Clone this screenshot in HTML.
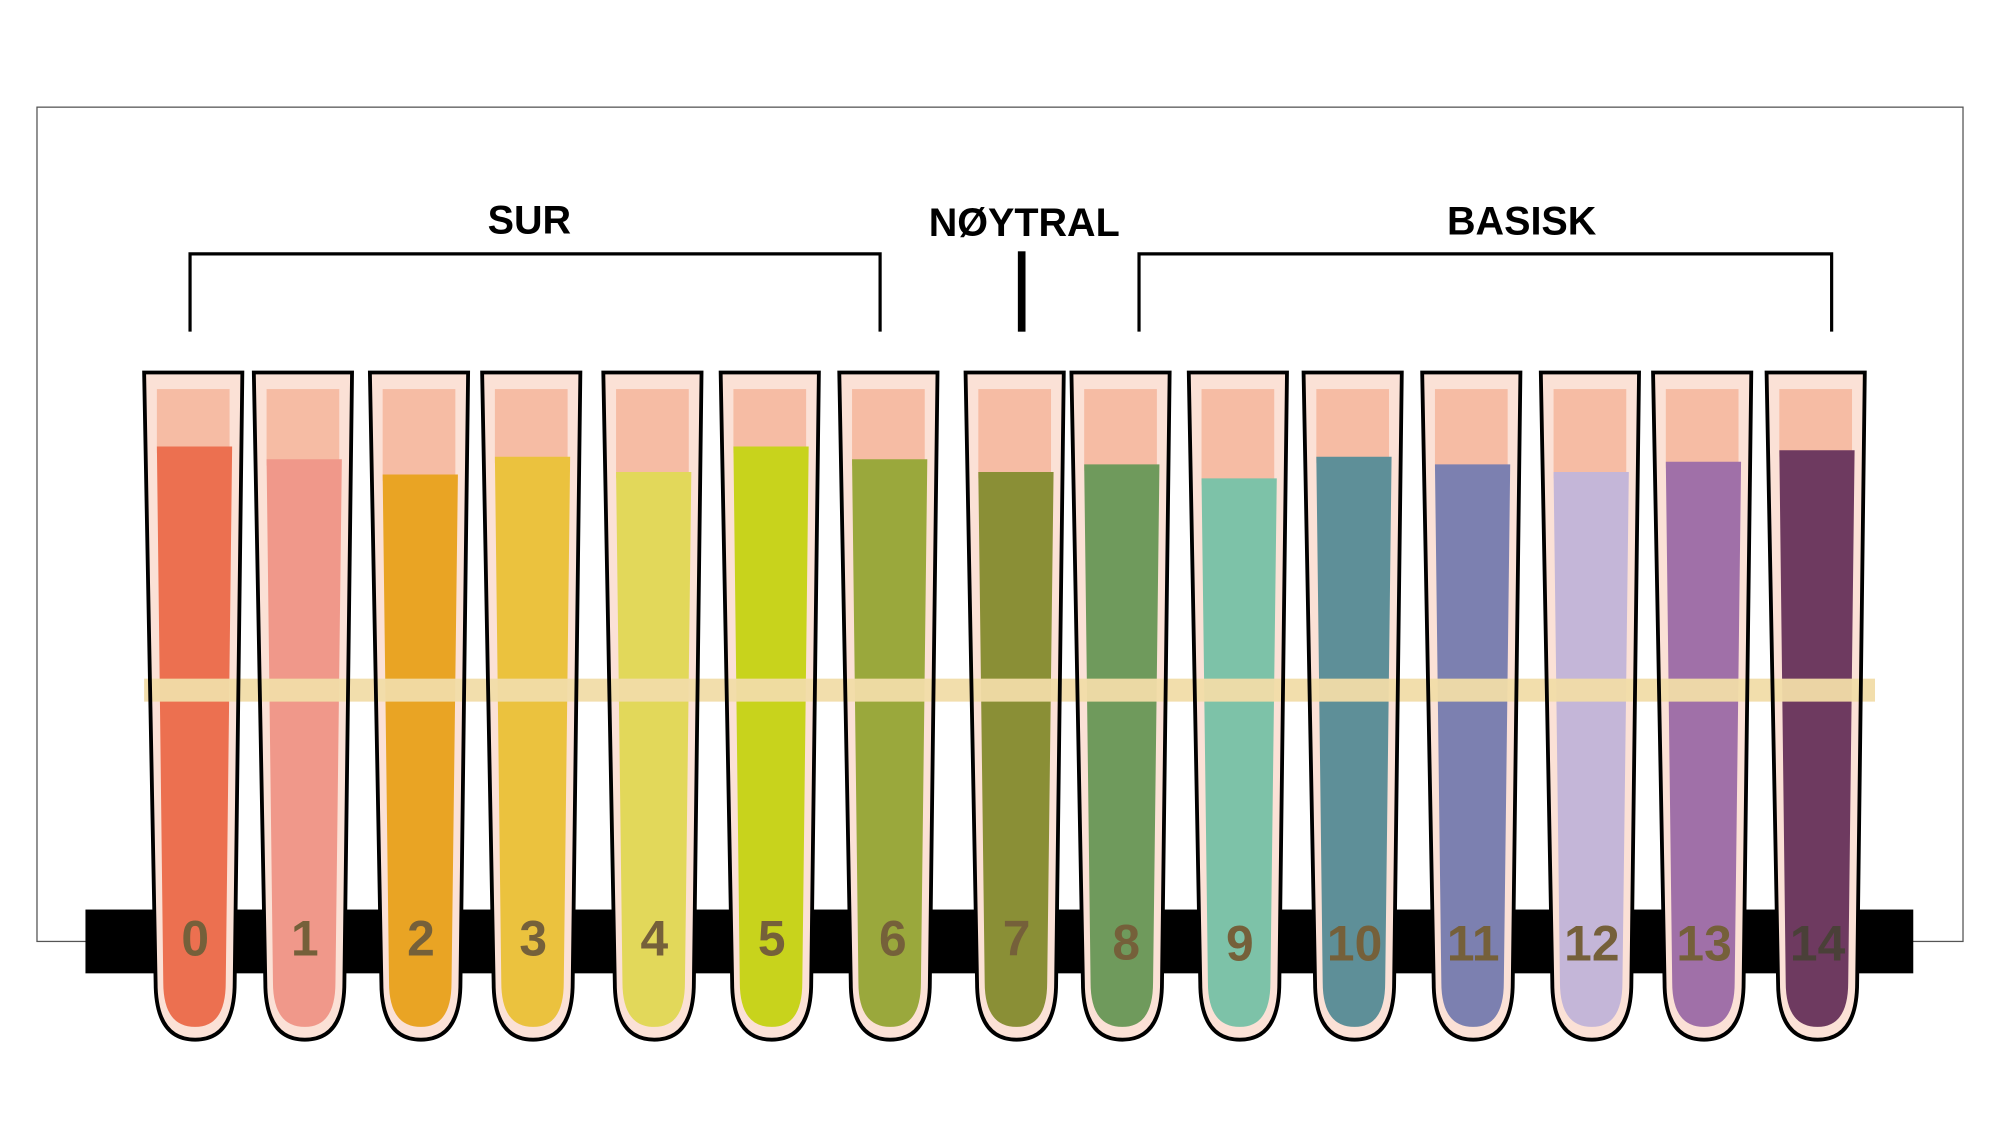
<!DOCTYPE html>
<html><head><meta charset="utf-8"><style>
html,body{margin:0;padding:0;background:#fff;}
svg{display:block}
text{font-family:"Liberation Sans",sans-serif;font-weight:bold}
</style></head><body>
<svg width="2000" height="1143" viewBox="0 0 1568 896" preserveAspectRatio="none" xmlns="http://www.w3.org/2000/svg">
<defs>
<path id="tb" d="M0 292 H77 L71 770 Q71 815 40 815 Q9 815 9 770 Z"/>
</defs>
<rect x="29" y="84" width="1510" height="654" fill="none" stroke="#555" stroke-width="1"/>
<rect x="67" y="713" width="1433" height="50" fill="#000"/>
<text x="415" y="183" font-size="31" text-anchor="middle" fill="#000">SUR</text>
<text x="803" y="185" font-size="31" text-anchor="middle" fill="#000">NØYTRAL</text>
<text x="1193" y="184" font-size="31" text-anchor="middle" fill="#000">BASISK</text>
<path d="M149 260 V199 H690 V260" fill="none" stroke="#000" stroke-width="2.5"/>
<path d="M893 260 V199 H1436 V260" fill="none" stroke="#000" stroke-width="2.5"/>
<rect x="798" y="197" width="6" height="63" fill="#000"/>

<g fill="#fbe1d6">
<use href="#tb" x="113"/><use href="#tb" x="199"/><use href="#tb" x="290"/><use href="#tb" x="378"/><use href="#tb" x="473"/><use href="#tb" x="565"/><use href="#tb" x="658"/><use href="#tb" x="757"/><use href="#tb" x="840"/><use href="#tb" x="932"/><use href="#tb" x="1022"/><use href="#tb" x="1115"/><use href="#tb" x="1208"/><use href="#tb" x="1296"/><use href="#tb" x="1385"/>
</g>
<g fill="#f6bca4">
<rect x="123" y="305" width="57" height="50"/><rect x="209" y="305" width="57" height="60"/><rect x="300" y="305" width="57" height="72"/><rect x="388" y="305" width="57" height="58"/><rect x="483" y="305" width="57" height="70"/><rect x="575" y="305" width="57" height="50"/><rect x="668" y="305" width="57" height="60"/><rect x="767" y="305" width="57" height="70"/><rect x="850" y="305" width="57" height="64"/><rect x="942" y="305" width="57" height="75"/><rect x="1032" y="305" width="57" height="58"/><rect x="1125" y="305" width="57" height="64"/><rect x="1218" y="305" width="57" height="70"/><rect x="1306" y="305" width="57" height="62"/><rect x="1395" y="305" width="57" height="53"/>
</g>
<path d="M123 350 H182 L177 770 Q177 805 153 805 Q128 805 128 770 Z" fill="#ec7050"/>
<path d="M209 360 H268 L263 770 Q263 805 239 805 Q214 805 214 770 Z" fill="#f0988a"/>
<path d="M300 372 H359 L354 770 Q354 805 330 805 Q305 805 305 770 Z" fill="#e9a424"/>
<path d="M388 358 H447 L442 770 Q442 805 418 805 Q393 805 393 770 Z" fill="#ebc23e"/>
<path d="M483 370 H542 L537 770 Q537 805 513 805 Q488 805 488 770 Z" fill="#e2d85a"/>
<path d="M575 350 H634 L629 770 Q629 805 605 805 Q580 805 580 770 Z" fill="#c8d31c"/>
<path d="M668 360 H727 L722 770 Q722 805 698 805 Q673 805 673 770 Z" fill="#9aa83c"/>
<path d="M767 370 H826 L821 770 Q821 805 797 805 Q772 805 772 770 Z" fill="#8a8f36"/>
<path d="M850 364 H909 L904 770 Q904 805 880 805 Q855 805 855 770 Z" fill="#6f9a5c"/>
<path d="M942 375 H1001 L996 770 Q996 805 972 805 Q947 805 947 770 Z" fill="#7dc2a8"/>
<path d="M1032 358 H1091 L1086 770 Q1086 805 1062 805 Q1037 805 1037 770 Z" fill="#5e8f98"/>
<path d="M1125 364 H1184 L1179 770 Q1179 805 1155 805 Q1130 805 1130 770 Z" fill="#7c80b0"/>
<path d="M1218 370 H1277 L1272 770 Q1272 805 1248 805 Q1223 805 1223 770 Z" fill="#c4b6d8"/>
<path d="M1306 362 H1365 L1360 770 Q1360 805 1336 805 Q1311 805 1311 770 Z" fill="#a070a8"/>
<path d="M1395 353 H1454 L1449 770 Q1449 805 1425 805 Q1400 805 1400 770 Z" fill="#6e3a60"/>

<rect x="113" y="532" width="1357" height="18" fill="#f1dca8" opacity="0.95"/>

<g fill="none" stroke="#000" stroke-width="3">
<use href="#tb" x="113"/><use href="#tb" x="199"/><use href="#tb" x="290"/><use href="#tb" x="378"/><use href="#tb" x="473"/><use href="#tb" x="565"/><use href="#tb" x="658"/><use href="#tb" x="757"/><use href="#tb" x="840"/><use href="#tb" x="932"/><use href="#tb" x="1022"/><use href="#tb" x="1115"/><use href="#tb" x="1208"/><use href="#tb" x="1296"/><use href="#tb" x="1385"/>
</g>
<g font-size="39" text-anchor="middle" fill="#75603a">
<text x="153" y="749">0</text><text x="239" y="749">1</text><text x="330" y="749">2</text><text x="418" y="749">3</text><text x="513" y="749">4</text><text x="605" y="749">5</text><text x="700" y="749">6</text><text x="797" y="749">7</text><text x="883" y="752">8</text><text x="972" y="753">9</text><text x="1062" y="753">10</text><text x="1155" y="753">11</text><text x="1248" y="753">12</text><text x="1336" y="753">13</text><text x="1425" y="753" fill="#4a4038">14</text>
</g>
</svg>
</body></html>
